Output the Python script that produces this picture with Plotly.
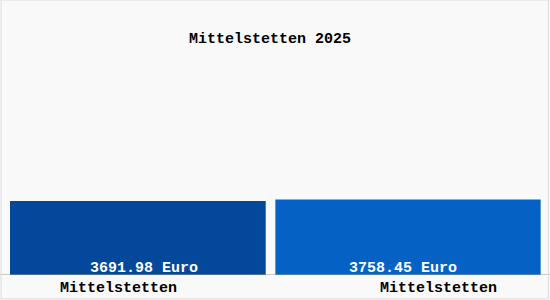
import plotly.graph_objects as go

title = "Mittelstetten 2025"
categories = ["Mittelstetten", "Mittelstetten"]
values = [3691.98, 3758.45]
unit = "Euro"

colors = ["#03489a", "#0562c4"]
bar_widths = [0.9465, 0.982]
label_xshift = [-19, 30]
value_xshift = [6, -5]
FONT = "Liberation Mono"

fig = go.Figure()
fig.add_trace(go.Bar(
    x=list(range(len(values))),
    y=values,
    width=bar_widths,
    marker=dict(color=colors, line=dict(width=0)),
    hoverinfo="skip",
))

annotations = []
for i, (c, v) in enumerate(zip(categories, values)):
    annotations.append(dict(
        x=i, xref="x", y=0, yref="y", yanchor="middle", yshift=-13,
        xshift=label_xshift[i], text=c, showarrow=False,
        font=dict(family=FONT, size=15, color="black", weight="bold"),
    ))
    annotations.append(dict(
        x=i, xref="x", y=0, yref="y", yanchor="middle", yshift=7,
        xshift=value_xshift[i], text=f"{v:.2f} {unit}", showarrow=False,
        font=dict(family=FONT, size=15, color="white", weight="bold"),
    ))

fig.update_layout(
    width=550, height=300,
    margin=dict(l=0, r=0, t=0, b=25),
    paper_bgcolor="#f9f9f9",
    plot_bgcolor="#f9f9f9",
    showlegend=False,
    title=dict(text=title, x=0.491, xanchor="center", y=1 - 38 / 300, yanchor="middle",
               font=dict(family=FONT, size=15, color="black", weight="bold")),
    xaxis=dict(range=[-0.5103, 1.5256], showticklabels=False, showgrid=False, zeroline=False, fixedrange=True),
    yaxis=dict(range=[0, 13700], showticklabels=False, showgrid=False, zeroline=False, fixedrange=True),
    annotations=annotations,
    shapes=[
        dict(type="line", xref="paper", yref="y", x0=0, x1=1, y0=0, y1=0,
             line=dict(color="#9a9a9a", width=1)),
        dict(type="rect", xref="paper", yref="paper", x0=0.002, x1=0.997, y0=-25 / 275 + 0.004, y1=1.0,
             line=dict(color="#dddddd", width=1)),
    ],
)

fig.write_html("out.html")
